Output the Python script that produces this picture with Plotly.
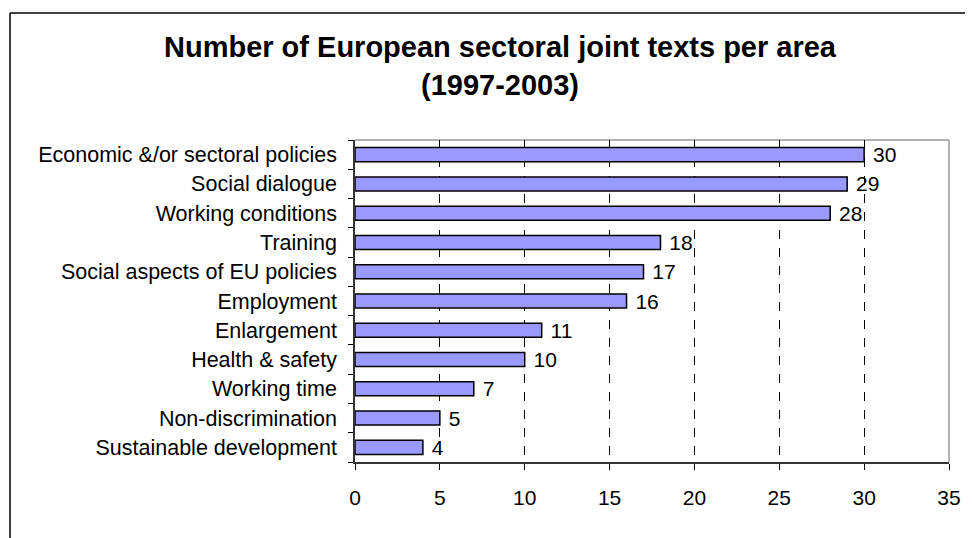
import plotly.graph_objects as go

categories = ["Economic &/or sectoral policies", "Social dialogue", "Working conditions",
              "Training", "Social aspects of EU policies", "Employment", "Enlargement",
              "Health & safety", "Working time", "Non-discrimination", "Sustainable development"]
values = [30, 29, 28, 18, 17, 16, 11, 10, 7, 5, 4]
x_ticks = [0, 5, 10, 15, 20, 25, 30, 35]

# page body has an 8px margin, so figure coordinates = screen - 8
OFF = 8
W, H = 973 - OFF, 538 - OFF
L, T = 355 - OFF, 140 - OFF
R = W - (949 - OFF)
B = H - (462 - OFF)
pw, ph = W - L - R, H - T - B


def px(x):
    return (x - OFF - L) / pw


def py(y):
    return (H - B - (y - OFF)) / ph


font = "Liberation Sans, Arial, sans-serif"

fig = go.Figure(go.Bar(
    y=categories[::-1], x=values[::-1], orientation="h",
    marker=dict(color="#9999FF", line=dict(color="black", width=1.5)),
    text=[" " + str(v) for v in values[::-1]], textposition="outside",
    textfont=dict(size=21, color="black", family=font),
    constraintext="none", cliponaxis=False, width=0.48,
))

fig.update_layout(
    width=W, height=H, margin=dict(l=L, r=R, t=T, b=B),
    paper_bgcolor="white", plot_bgcolor="white", showlegend=False,
    font=dict(family=font, color="black"),
    title=dict(text="<b>Number of European sectoral joint texts per area<br>(1997-2003)</b>",
               x=(500 - OFF) / W, xanchor="center", xref="container",
               y=1 - (57 - OFF) / H, yanchor="middle",
               font=dict(size=29, family=font, color="black")),
    xaxis=dict(range=[0, 35], tickvals=x_ticks, showgrid=True, gridcolor="black",
               griddash="dash", gridwidth=1, zeroline=False, showline=True,
               linecolor="#333333", linewidth=1.5, ticks="outside", ticklen=6,
               tickcolor="black", tickfont=dict(size=21), ticklabelstandoff=10,
               fixedrange=True),
    yaxis=dict(showline=True, linecolor="#333333", linewidth=1.5, ticks="outside",
               ticklen=5, tickcolor="black", tickson="boundaries",
               tickfont=dict(size=21.5), ticklabelstandoff=12, showgrid=False),
    shapes=[
        dict(type="line", xref="paper", yref="paper", x0=0, x1=1, y0=1, y1=1,
             line=dict(color="#999999", width=1.5), layer="below"),
        dict(type="line", xref="paper", yref="paper", x0=1, x1=1, y0=0, y1=1,
             line=dict(color="#999999", width=1.5), layer="above"),
        dict(type="line", xref="paper", yref="paper", x0=px(10), x1=px(975), y0=py(13), y1=py(13),
             line=dict(color="black", width=1.5)),
        dict(type="line", xref="paper", yref="paper", x0=px(10), x1=px(10), y0=py(13), y1=py(545),
             line=dict(color="black", width=1.5)),
    ],
)

fig.write_html("out.html")
